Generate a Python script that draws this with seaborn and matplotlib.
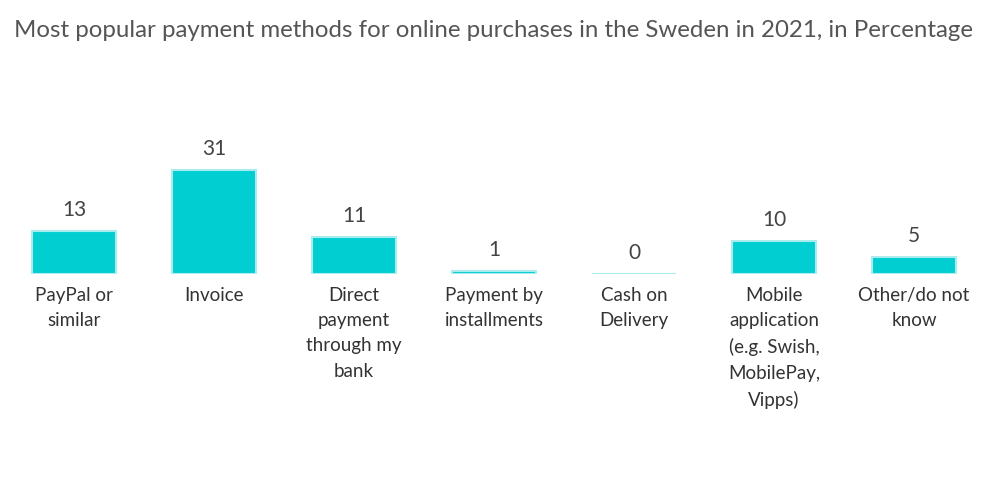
import pandas as pd
import numpy as np
import seaborn as sns
import matplotlib.pyplot as plt

categories = ["PayPal or\nsimilar", "Invoice", "Direct\npayment\nthrough my\nbank",
              "Payment by\ninstallments", "Cash on\nDelivery",
              "Mobile\napplication\n(e.g. Swish,\nMobilePay,\nVipps)", "Other/do not\nknow"]
values = [13, 31, 11, 1, 0, 10, 5]

title = "Most popular payment methods for online purchases in the Sweden in 2021, in Percentage"

sns.set_style("white")
plt.rcParams['font.family'] = ['Lato', 'DejaVu Sans']

df = pd.DataFrame({"method": categories, "share": values})

fig = plt.figure(figsize=(10, 5.04), dpi=100)
ax = fig.add_axes([0.004, 0.456, 0.98, 0.266])

sns.barplot(data=df, x="method", y="share", color="#00CED1", saturation=1,
            width=0.6, edgecolor="#aaeced", linewidth=1.5, ax=ax)

for i, v in enumerate(values):
    ax.text(i, v + 3.3, str(v), ha="center", va="bottom", fontsize=15, color="#444444")

ax.set_ylim(0, 40)
ax.set_xlim(-0.5, 6.5)
ax.set_yticks([])
ax.set_xlabel("")
ax.set_ylabel("")
ax.tick_params(axis="x", length=0, pad=9, labelsize=13.5, labelcolor="#333333")
for lab in ax.get_xticklabels():
    lab.set_linespacing(1.6)
sns.despine(ax=ax, left=True, bottom=True)

fig.text(0.014, 0.94, title, fontsize=17.3, color="#555555", ha="left", va="center")

fig.savefig("out.png", dpi=100)
